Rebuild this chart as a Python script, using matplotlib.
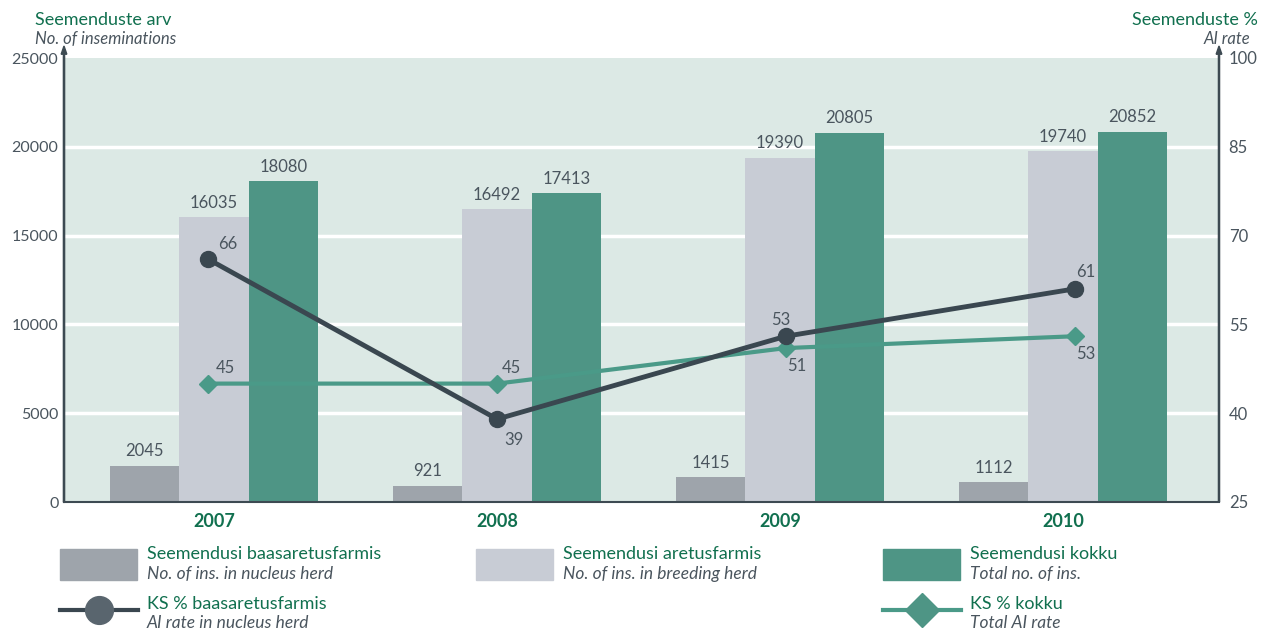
import matplotlib
matplotlib.use("Agg")
import matplotlib.pyplot as plt
from matplotlib.patches import Rectangle, FancyArrow
from matplotlib.lines import Line2D
import numpy as np

years = ["2007", "2008", "2009", "2010"]
ins_nucleus = [2045, 921, 1415, 1112]
ins_breeding = [16035, 16492, 19390, 19740]
ins_total = [18080, 17413, 20805, 20852]
ai_nucleus = [66, 39, 53, 61]
ai_total = [45, 45, 51, 53]

left_ticks = [0, 5000, 10000, 15000, 20000, 25000]
right_ticks = [25, 40, 55, 70, 85, 100]

C_GRAY = "#9ea4ab"
C_LIGHT = "#c8ccd5"
C_GREEN = "#4e9585"
C_BG = "#dce9e5"
C_DARK = "#3a4750"
C_LINEG = "#4a9a88"
C_TXTG = "#11704f"
C_TXT = "#4a555e"
C_AX = "#3d4a52"

FONT = "Lato"
plt.rcParams["font.family"] = [FONT, "DejaVu Sans"]

W, H = 1261, 632
fig = plt.figure(figsize=(W / 100, H / 100), dpi=100)
L, R, T, B = 64, 1219, 58, 502
pos = [L / W, 1 - B / H, (R - L) / W, (B - T) / H]
ax = fig.add_axes(pos)
ax.set_facecolor(C_BG)

x = np.arange(len(years))
bw = 0.245
ax.set_xlim(-0.53, 3.551)
ax.set_ylim(0, 25000)
for yv in left_ticks[1:-1]:
    ax.axhline(yv, color="white", lw=2.5, zorder=1)

series = [(ins_nucleus, C_GRAY, -1), (ins_breeding, C_LIGHT, 0), (ins_total, C_GREEN, 1)]
for vals, col, off in series:
    ax.bar(x + off * bw, vals, bw, color=col, zorder=2, linewidth=0)
    for xi, v in zip(x + off * bw, vals):
        ax.text(xi, v + 350, str(v), ha="center", va="bottom", fontsize=12, color=C_TXT)

ax.set_yticks(left_ticks)
ax.set_yticklabels([str(t) for t in left_ticks], fontsize=11.5, color=C_TXT)
ax.set_xticks(x)
ax.set_xticklabels(years, fontsize=13, fontweight="bold", color=C_TXTG)
ax.tick_params(axis="y", length=0, pad=4)
ax.tick_params(axis="x", length=0, pad=8)
for s in ["top", "right"]:
    ax.spines[s].set_visible(False)
ax.spines["left"].set_color(C_AX)
ax.spines["bottom"].set_color(C_AX)
ax.spines["left"].set_linewidth(1.5)
ax.spines["bottom"].set_linewidth(1.5)

# overlay for the rate lines
ax2 = fig.add_axes(pos, frameon=False)
ax2.set_xlim(-0.5, 3.5)
ax2.set_ylim(25, 100)
ax2.set_xticks([])
ax2.yaxis.tick_right()
ax2.set_yticks(right_ticks)
ax2.set_yticklabels([str(t) for t in right_ticks], fontsize=12, color=C_TXT)
ax2.tick_params(axis="y", length=0, pad=7)
ax2.spines["right"].set_visible(True)
ax2.spines["right"].set_color(C_AX)
ax2.spines["right"].set_linewidth(1.5)

ax2.plot(x, ai_total, color=C_LINEG, lw=3, marker="D", ms=9.5, mfc=C_LINEG, mec=C_LINEG, zorder=3)
ax2.plot(x, ai_nucleus, color=C_DARK, lw=3.5, marker="o", ms=11.5, mfc=C_DARK, mec=C_DARK, zorder=4)

# labels for lines
dk_off = [(14, 11), (12, -15), (-4, 12), (8, 12)]
gr_off = [(12, 11), (10, 11), (8, -13), (8, -13)]
for xi, v, (dx, dy) in zip(x, ai_nucleus, dk_off):
    ax2.annotate(str(v), (xi, v), xytext=(dx, dy), textcoords="offset points",
                 ha="center", va="center", fontsize=12, color=C_TXT, zorder=5)
for xi, v, (dx, dy) in zip(x, ai_total, gr_off):
    ax2.annotate(str(v), (xi, v), xytext=(dx, dy), textcoords="offset points",
                 ha="center", va="center", fontsize=12, color=C_TXT, zorder=5)

# arrows on spines
for xa in (L, R):
    fig.patches.append(FancyArrow(
        xa / W, 1 - B / H, 0, (B - 46) / H, width=0.0009, head_width=0.0045,
        head_length=0.013, length_includes_head=True, color=C_AX,
        transform=fig.transFigure, figure=fig))

# axis titles
fig.text(35 / W, 1 - 20 / H, "Seemenduste arv", fontsize=13, color=C_TXTG, va="center", ha="left")
fig.text(35 / W, 1 - 39 / H, "No. of inseminations", fontsize=12, color=C_TXT, style="italic", va="center", ha="left")
fig.text(1258 / W, 1 - 20 / H, "Seemenduste %", fontsize=13, color=C_TXTG, va="center", ha="right")
fig.text(1250 / W, 1 - 39 / H, "AI rate", fontsize=12, color=C_TXT, style="italic", va="center", ha="right")

# legend
leg_rows = [
    (60, 549, C_GRAY, "Seemendusi baasaretusfarmis", "No. of ins. in nucleus herd"),
    (476, 549, C_LIGHT, "Seemendusi aretusfarmis", "No. of ins. in breeding herd"),
    (883, 549, C_GREEN, "Seemendusi kokku", "Total no. of ins."),
]
for lx, ly, col, t1, t2 in leg_rows:
    fig.patches.append(Rectangle((lx / W, 1 - (ly + 31) / H), 77 / W, 31 / H,
                                 transform=fig.transFigure, color=col, figure=fig))
    fig.text((lx + 87) / W, 1 - (ly + 5) / H, t1, fontsize=13, color=C_TXTG, va="center", ha="left")
    fig.text((lx + 87) / W, 1 - (ly + 25) / H, t2, fontsize=12.5, color=C_TXT, style="italic", va="center", ha="left")

line_leg = [
    (60, C_DARK, "o", 20, "KS % baasaretusfarmis", "AI rate in nucleus herd", "#59656e"),
    (883, C_LINEG, "D", 17, "KS % kokku", "Total AI rate", "#4e9585"),
]
for lx, col, mk, ms, t1, t2, mcol in line_leg:
    yy = 1 - 610 / H
    fig.lines.append(Line2D([lx / W, (lx + 78) / W], [yy, yy], transform=fig.transFigure,
                            color=col, lw=3, figure=fig))
    fig.lines.append(Line2D([(lx + 39) / W], [yy], transform=fig.transFigure, marker=mk,
                            ms=ms, mfc=mcol, mec=mcol, lw=0, figure=fig))
    fig.text((lx + 87) / W, 1 - 604 / H, t1, fontsize=13, color=C_TXTG, va="center", ha="left")
    fig.text((lx + 87) / W, 1 - 623 / H, t2, fontsize=12.5, color=C_TXT, style="italic", va="center", ha="left")

fig.savefig("out.png", dpi=100)
